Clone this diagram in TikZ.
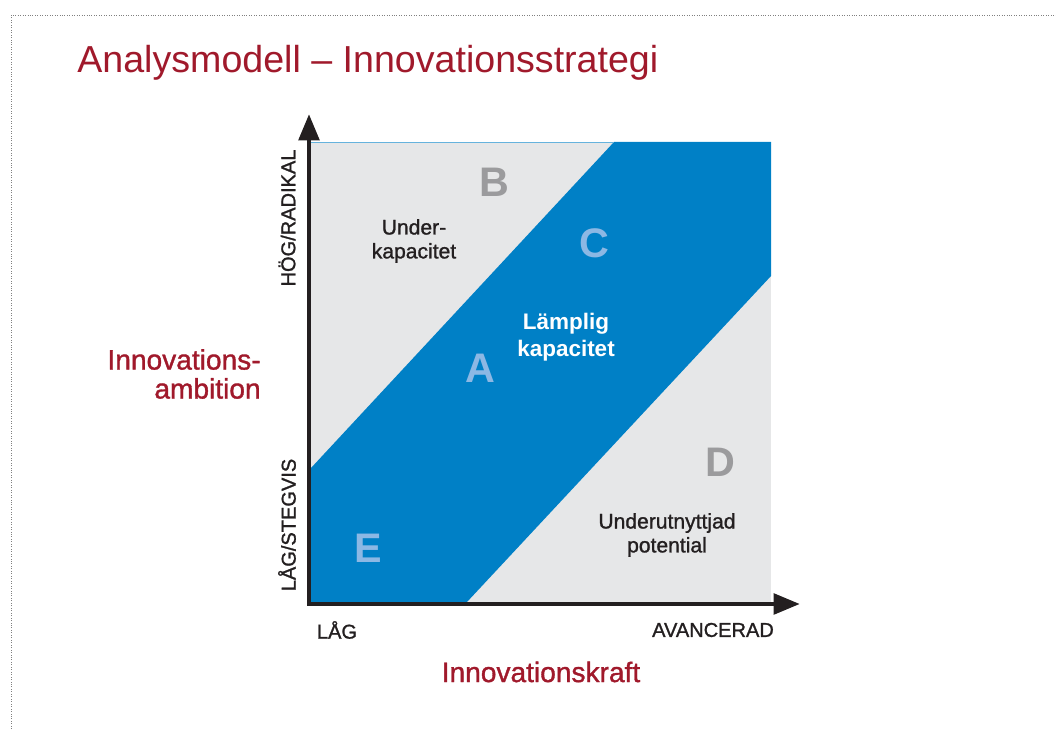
\documentclass[tikz,border=0pt]{standalone}
\usepackage{fontspec}
\setmainfont{Liberation Sans}
\newfontfamily\medium[FakeBold=1.2]{Liberation Sans}
\usetikzlibrary{arrows.meta}
\definecolor{titlered}{RGB}{160,25,43}
\definecolor{bandblue}{RGB}{0,128,198}
\definecolor{fieldgray}{RGB}{230,231,232}
\definecolor{letterblue}{RGB}{140,184,228}
\definecolor{lettergray}{RGB}{155,155,157}
\definecolor{inkblack}{RGB}{35,31,32}
\tikzset{
  axis/.style={line width=2.8pt, inkblack, line join=miter,
    {Triangle[length=15pt,width=11.5pt]}-{Triangle[length=15pt,width=11.5pt]}},
  zonetext/.style={font=\medium\fontsize{12}{13.6}\selectfont, text=inkblack, align=center},
  zoneletter/.style={font=\fontsize{23.5}{24}\selectfont\bfseries},
  axislabel/.style={font=\medium\fontsize{11.4}{12}\selectfont, text=inkblack},
  redlabel/.style={font=\medium\fontsize{16}{16.5}\selectfont, text=titlered}
}
\begin{document}
\begin{tikzpicture}[x=0.02cm,y=-0.02cm]
       \useasboundingbox (0,0) rectangle (1056,729);
       \draw[gray, densely dotted] (11,729) -- (11,15) -- (1056,15);

       \node[anchor=base west, inner sep=0pt, font=\fontsize{21.4}{24}\selectfont, text=titlered] (title) at (77,73) {Analysmodell – Innovationsstrategi};

       %the field
       \path[fill=fieldgray] (311,142) rectangle (771,602);
       \path[fill=bandblue] (311,468) -- (614,142) -- (771,142) -- (771,276) -- (467,602) -- (311,602) -- cycle;
       \draw[bandblue!60, line width=0.4pt] (311,142.5) -- (614,142.5);

       \coordinate (origo) at (309,604);
       \coordinate (ytop) at (309,114);
       \coordinate (xend) at (800,604);
       \draw[axis] (ytop) -- (origo) -- (xend);

       \node[zoneletter, text=lettergray] (B) at (494,182) {B};
       \node[zoneletter, text=letterblue] (C) at (594,243) {C};
       \node[zoneletter, text=letterblue] (A) at (480,368) {A};
       \node[zoneletter, text=lettergray] (D) at (720,462) {D};
       \node[zoneletter, text=letterblue] (E) at (368,548) {E};

       \node[zonetext] (under) at (414,241) {Under-\\kapacitet};
       \node[zonetext, text=white, font=\fontsize{12.8}{15.3}\selectfont\bfseries] (lamplig) at (566,337) {Lämplig\\kapacitet};
       \node[zonetext] (outnyttjad) at (667,535) {Underutnyttjad\\potential};

       \node[axislabel, rotate=90] (hog) at (287,218) {HÖG/RADIKAL};
       \node[axislabel, rotate=90] (lagy) at (287,525) {LÅG/STEGVIS};
       \node[axislabel] (lagx) at (337,630) {LÅG};
       \node[axislabel] (avancerad) at (713,630) {AVANCERAD};

       \node[redlabel, align=right, anchor=east, inner sep=0pt] (ambition) at (261,374) {Innovations-\\ambition};
       \node[redlabel] (kraft) at (541,672) {Innovationskraft};
\end{tikzpicture}
\end{document}
